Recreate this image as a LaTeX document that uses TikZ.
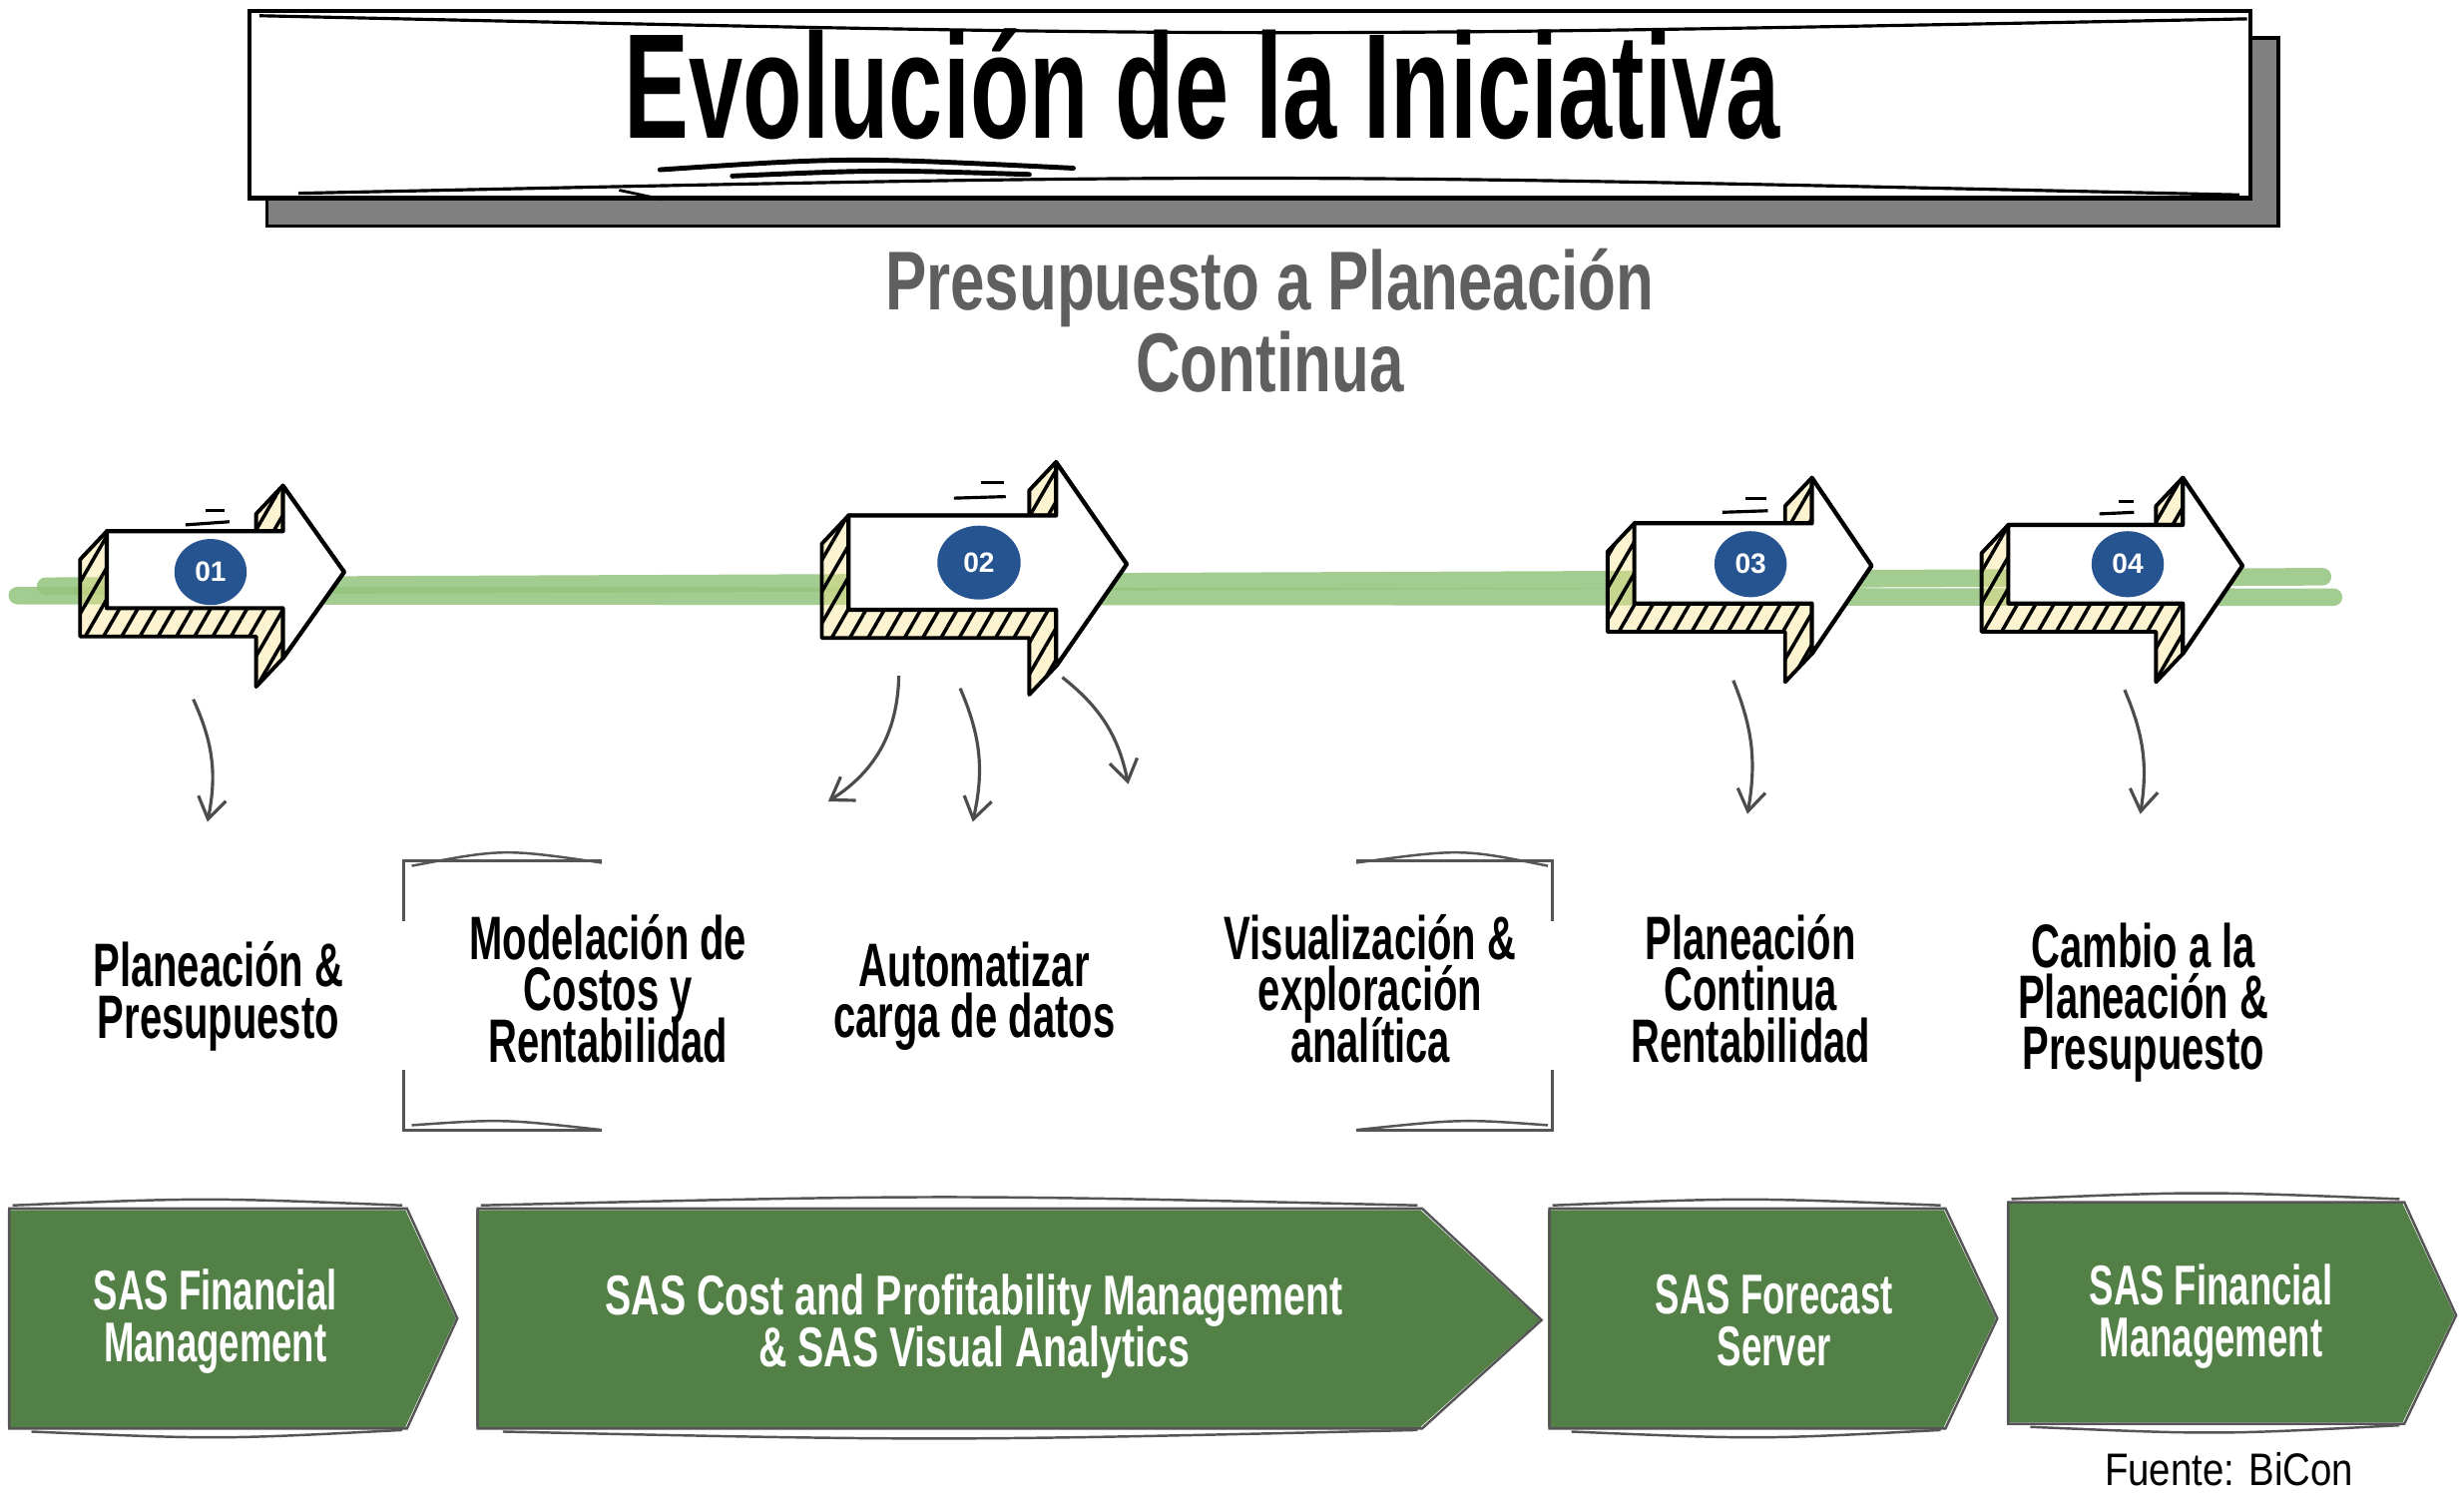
\documentclass[tikz,border=0pt]{standalone}
\usepackage{fontspec}
\newfontfamily\condfont{Liberation Sans}[FakeStretch=0.65]
\newfontfamily\widecondfont{Liberation Sans}[FakeStretch=0.70]
\newfontfamily\subfont{Liberation Sans}[FakeStretch=0.74]
\newfontfamily\sourcefont{Liberation Sans}[FakeStretch=0.84]
\newfontfamily\numfont{Liberation Sans}
\usetikzlibrary{shapes.geometric, arrows.meta, patterns.meta, positioning}

\definecolor{linegreen}{RGB}{147,196,125}
\definecolor{chevgreen}{RGB}{82,128,70}
\definecolor{numblue}{RGB}{37,84,145}
\definecolor{hatchyellow}{RGB}{248,226,140}
\definecolor{subgray}{RGB}{95,95,95}
\definecolor{sketchgray}{RGB}{85,85,85}
\definecolor{shadowgray}{RGB}{128,128,128}

\newcommand{\px}{0.015746cm}
\newcommand{\tightlines}{\lineskiplimit -100pt\relax}
\newcommand{\blockarrow}[8]{%
  \draw[hatched] (#1,#4) -- (#2,#4) -- ({#2-17},{#4+18}) -- ({#2-17},{#6+18}) -- (#2,#6) -- (#3,#8) -- (#2,#7) -- ({#2-17},{#7+18}) -- ({#2-17},{#5+18}) -- ({#1-17},{#5+18}) -- ({#1-17},{#4+18}) -- cycle;
  \draw[frontface] (#1,#4) -- (#2,#4) -- (#2,#6) -- (#3,#8) -- (#2,#7) -- (#2,#5) -- (#1,#5) -- cycle;
}

\begin{document}
\begin{tikzpicture}[x=0.015746cm, y=-0.015746cm,
  titletext/.style={font=\condfont\bfseries\fontsize{42.6}{44}\selectfont, inner sep=0pt},
  subtitle/.style={font=\subfont\bfseries\fontsize{23.8}{23.3}\selectfont\tightlines, text=subgray, align=center, inner sep=0pt},
  phaselabel/.style={font=\condfont\bfseries\fontsize{17.5}{14.6}\selectfont\tightlines, align=center, inner sep=0pt},
  chevtext/.style={font=\condfont\bfseries\fontsize{16}{14.8}\selectfont\tightlines, text=white, align=center, inner sep=0pt},
  numdot/.style={ellipse, fill=numblue, text=white, font=\numfont\bfseries\fontsize{8}{9}\selectfont, inner sep=0pt},
  hatched/.style={draw=black, line width=1.1pt, line join=round, preaction={fill=hatchyellow, fill opacity=.4}, pattern={Lines[angle=60, distance=4.5pt, line width=1pt]}},
  frontface/.style={draw=black, line width=1.2pt, line join=round, fill=white},
  speedline/.style={draw=black, line width=0.9pt},
  greenline/.style={draw=linegreen, line width=5pt, line cap=round, opacity=.85},
  curvearrow/.style={draw=black!70, line width=0.9pt, -{Straight Barb[length=6pt, width=8pt]}},
  bracketline/.style={draw=sketchgray, line width=0.9pt},
  chevron/.style={fill=chevgreen},
  sketchline/.style={draw=sketchgray, line width=0.7pt},
  fuente/.style={font=\sourcefont\fontsize{13}{14}\selectfont, inner sep=0pt}]

\useasboundingbox (0,0) rectangle (1568,961);

\draw[greenline] (29,373) -- (1478,367);
\draw[greenline] (11,379) -- (1485,380);

\draw[fill=shadowgray, draw=black, line width=1pt] (170,24) rectangle (1450,144);
\draw[fill=white, draw=black, line width=1.2pt] (159,7) rectangle (1432,126);
\draw[black, line width=0.9pt] (165,10) .. controls (800,24) .. (1430,12);
\draw[black, line width=0.9pt] (190,123) .. controls (800,110) .. (1425,124);
\node[titletext, anchor=base] (title) at (765,88) {Evolución de la Iniciativa};
\draw[black, line width=1.4pt, line cap=round] (420,108) .. controls (540,100) .. (683,107);
\draw[black, line width=1.4pt, line cap=round] (466,112) .. controls (560,108) .. (655,111);
\draw[black, line width=0.8pt] (394,121) -- (422,127);

\node[subtitle] (subtitle) at (808,204) {Presupuesto a Planeación\\Continua};

\blockarrow{68}{180}{219}{338}{387}{309}{419}{364}
\blockarrow{540}{672}{717}{328}{388}{294}{424}{359}
\blockarrow{1040}{1153}{1191}{333}{384}{304}{416}{360}
\blockarrow{1278}{1389}{1427}{334}{384}{304}{416}{360}

\draw[speedline] (131,325) -- (143,325);
\draw[speedline] (118,334) -- (146,332);
\draw[speedline] (624,307) -- (639,307);
\draw[speedline] (607,317) -- (640,316);
\draw[speedline] (1111,317) -- (1124,317);
\draw[speedline] (1096,326) -- (1125,325);
\draw[speedline] (1348,319) -- (1358,319);
\draw[speedline] (1336,327) -- (1358,326);

\node[numdot, minimum width=46*\px, minimum height=42*\px] (n01) at (134,364) {01};
\node[numdot, minimum width=53*\px, minimum height=47*\px] (n02) at (623,358) {02};
\node[numdot, minimum width=46*\px, minimum height=42*\px] (n03) at (1114,359) {03};
\node[numdot, minimum width=46*\px, minimum height=42*\px] (n04) at (1354,359) {04};

\coordinate (s01) at (123,445);
\coordinate (e01) at (132,523);
\coordinate (s02a) at (572,430);
\coordinate (e02a) at (527,510);
\coordinate (s02b) at (611,438);
\coordinate (e02b) at (619,523);
\coordinate (s02c) at (676,431);
\coordinate (e02c) at (718,499);
\coordinate (s03) at (1103,433);
\coordinate (e03) at (1112,518);
\coordinate (s04) at (1352,439);
\coordinate (e04) at (1362,518);
\draw[curvearrow] (s01) to[bend left=18] (e01);
\draw[curvearrow] (s02a) to[bend left=28] (e02a);
\draw[curvearrow] (s02b) to[bend left=18] (e02b);
\draw[curvearrow] (s02c) to[bend left=20] (e02c);
\draw[curvearrow] (s03) to[bend left=16] (e03);
\draw[curvearrow] (s04) to[bend left=16] (e04);

\draw[bracketline] (383,548) -- (257,548) -- (257,586);
\draw[bracketline] (257,681) -- (257,719) -- (383,719);
\draw[sketchline] (262,551) .. controls (320,540) .. (383,549);
\draw[sketchline] (262,716) .. controls (320,712) .. (383,719);
\draw[bracketline] (863,548) -- (988,548) -- (988,586);
\draw[bracketline] (988,681) -- (988,719) -- (863,719);
\draw[sketchline] (863,549) .. controls (930,540) .. (985,551);
\draw[sketchline] (863,719) .. controls (930,712) .. (985,716);

\node[phaselabel] (plan) at (139,634) {Planeación \&\\Presupuesto};
\node[phaselabel] (costos) at (387,629) {Modelación de\\Costos y\\Rentabilidad};
\node[phaselabel] (carga) at (620,634) {Automatizar\\carga de datos};
\node[phaselabel] (visual) at (872,629) {Visualización \&\\exploración\\analítica};
\node[phaselabel] (continua) at (1114,629) {Planeación\\Continua\\Rentabilidad};
\node[phaselabel] (cambio) at (1364,638) {Cambio a la\\Planeación \&\\Presupuesto};

\fill[chevron] (5,770) -- (258,770) -- (290,839) -- (258,908) -- (5,908) -- cycle;
\draw[sketchline] (6,769) -- (259,769) -- (291,839) -- (259,909) -- (6,909) -- cycle;
\draw[sketchline] (8,767) .. controls (130,762) .. (256,767);
\draw[sketchline] (20,911) .. controls (140,916) .. (256,910);

\fill[chevron] (303,770) -- (904,770) -- (980,840) -- (904,908) -- (303,908) -- cycle;
\draw[sketchline] (304,769) -- (905,769) -- (981,840) -- (905,909) -- (304,909) -- cycle;
\draw[sketchline] (306,767) .. controls (600,760) .. (902,767);
\draw[sketchline] (320,911) .. controls (600,917) .. (902,910);

\fill[chevron] (985,770) -- (1237,770) -- (1270,839) -- (1237,908) -- (985,908) -- cycle;
\draw[sketchline] (986,769) -- (1238,769) -- (1271,839) -- (1238,909) -- (986,909) -- cycle;
\draw[sketchline] (988,767) .. controls (1110,762) .. (1235,767);
\draw[sketchline] (1000,911) .. controls (1120,916) .. (1235,910);

\fill[chevron] (1277,766) -- (1529,766) -- (1562,837) -- (1529,905) -- (1277,905) -- cycle;
\draw[sketchline] (1278,765) -- (1530,765) -- (1563,837) -- (1530,906) -- (1278,906) -- cycle;
\draw[sketchline] (1280,763) .. controls (1400,758) .. (1527,763);
\draw[sketchline] (1292,908) .. controls (1410,913) .. (1527,907);

\node[chevtext] (sasfm1) at (137,841) {SAS Financial\\Management};
\node[chevtext, font=\widecondfont\bfseries\fontsize{16}{14.8}\selectfont\tightlines] (sascpm) at (620,844) {SAS Cost and Profitability Management\\\& SAS Visual Analytics};
\node[chevtext] (sasfs) at (1129,840) {SAS Forecast\\Server};
\node[chevtext] (sasfm2) at (1407,838) {SAS Financial\\Management};

\node[fuente, anchor=base east] (fuente) at (1498,945) {Fuente: BiCon};
\end{tikzpicture}
\end{document}
